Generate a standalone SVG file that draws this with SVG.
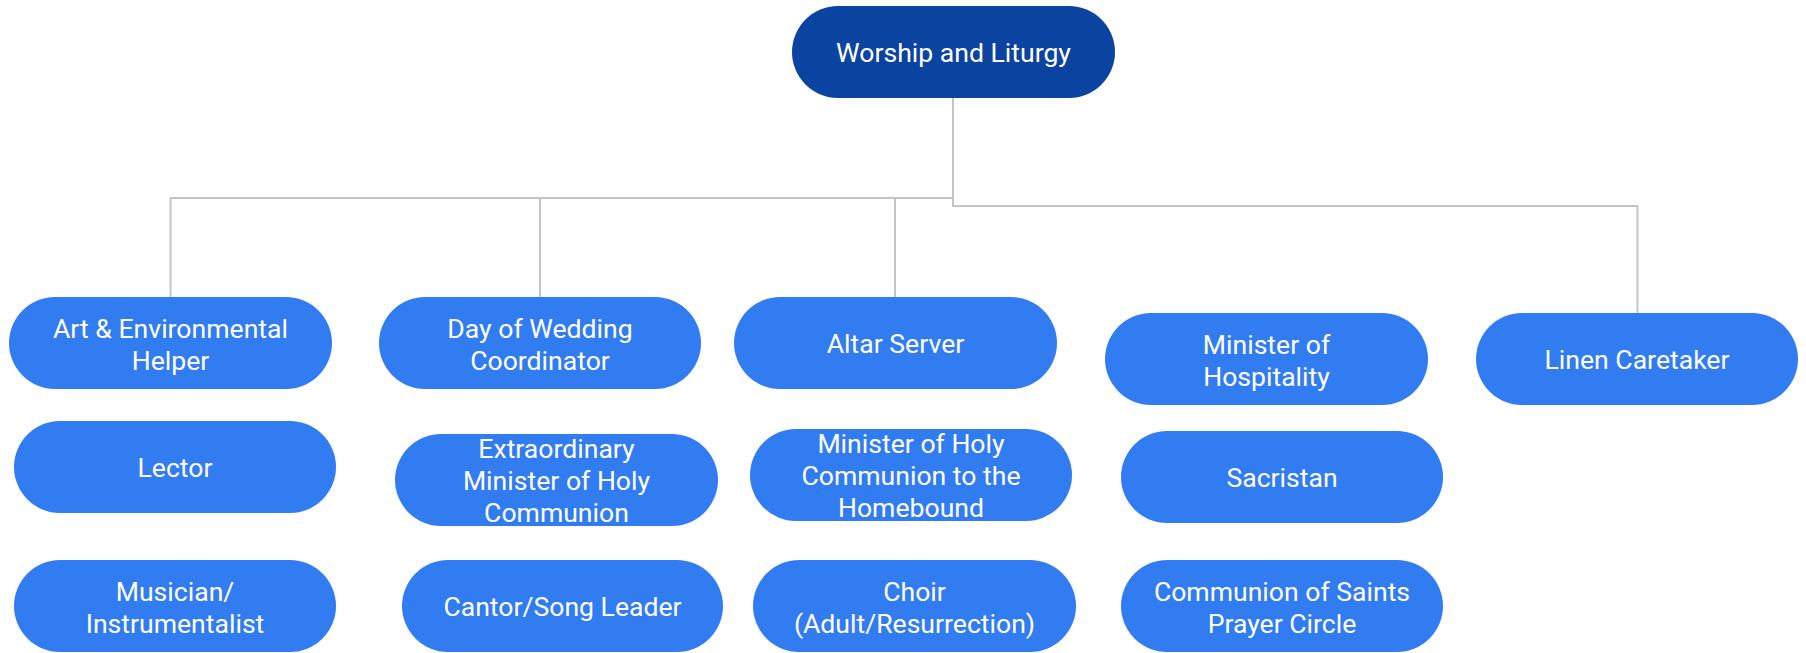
<svg xmlns="http://www.w3.org/2000/svg" width="1806" height="653" viewBox="0 0 1806 653">
<style>
.n{fill:#327cf2}
.r{fill:#0b43a0}
.t{font-family:Roboto,"Liberation Sans",sans-serif;font-size:26.6px;fill:#ffffff;text-anchor:middle}
.c{fill:none;stroke:#c4c4c4;stroke-width:2}
</style>
<rect width="1806" height="653" fill="#ffffff"/>
<g id="connectors">
<path class="c" d="M953,98 V206 H1637.5 V313"/>
<path class="c" d="M953,198 H170.5 V297"/>
<path class="c" d="M540,198 V297"/>
<path class="c" d="M895,198 V297"/>
</g>
<g id="root"><rect class="r" x="792" y="6" width="323" height="92" rx="46"/><text class="t" x="953.5" y="61.5">Worship and Liturgy</text></g>
<g id="art"><rect class="n" x="9" y="297" width="323" height="92" rx="46"/><text class="t" x="170.5" y="338">Art &amp; Environmental</text><text class="t" x="170.5" y="370">Helper</text></g>
<g id="wedding"><rect class="n" x="379" y="297" width="322" height="92" rx="46"/><text class="t" x="540" y="338">Day of Wedding</text><text class="t" x="540" y="370">Coordinator</text></g>
<g id="altar"><rect class="n" x="734" y="297" width="323" height="92" rx="46"/><text class="t" x="895.5" y="352.5">Altar Server</text></g>
<g id="hospitality"><rect class="n" x="1105" y="313" width="323" height="92" rx="46"/><text class="t" x="1266.5" y="354">Minister of</text><text class="t" x="1266.5" y="386">Hospitality</text></g>
<g id="linen"><rect class="n" x="1476" y="313" width="322" height="92" rx="46"/><text class="t" x="1637" y="368.5">Linen Caretaker</text></g>
<g id="lector"><rect class="n" x="14" y="421" width="322" height="92" rx="46"/><text class="t" x="175" y="476.5">Lector</text></g>
<g id="extraordinary"><rect class="n" x="395" y="434" width="323" height="92" rx="46"/><text class="t" x="556.5" y="457.5">Extraordinary</text><text class="t" x="556.5" y="489.5">Minister of Holy</text><text class="t" x="556.5" y="521.5">Communion</text></g>
<g id="homebound"><rect class="n" x="750" y="429" width="322" height="92" rx="46"/><text class="t" x="911" y="452.5">Minister of Holy</text><text class="t" x="911" y="484.5">Communion to the</text><text class="t" x="911" y="516.5">Homebound</text></g>
<g id="sacristan"><rect class="n" x="1121" y="431" width="322" height="92" rx="46"/><text class="t" x="1282" y="486.5">Sacristan</text></g>
<g id="musician"><rect class="n" x="14" y="560" width="322" height="92" rx="46"/><text class="t" x="175" y="601">Musician/</text><text class="t" x="175" y="633">Instrumentalist</text></g>
<g id="cantor"><rect class="n" x="402" y="560" width="321" height="92" rx="46"/><text class="t" x="562.5" y="615.5">Cantor/Song Leader</text></g>
<g id="choir"><rect class="n" x="753" y="560" width="323" height="92" rx="46"/><text class="t" x="914.5" y="601">Choir</text><text class="t" x="914.5" y="633">(Adult/Resurrection)</text></g>
<g id="saints"><rect class="n" x="1121" y="560" width="322" height="92" rx="46"/><text class="t" x="1282" y="601">Communion of Saints</text><text class="t" x="1282" y="633">Prayer Circle</text></g>
</svg>
